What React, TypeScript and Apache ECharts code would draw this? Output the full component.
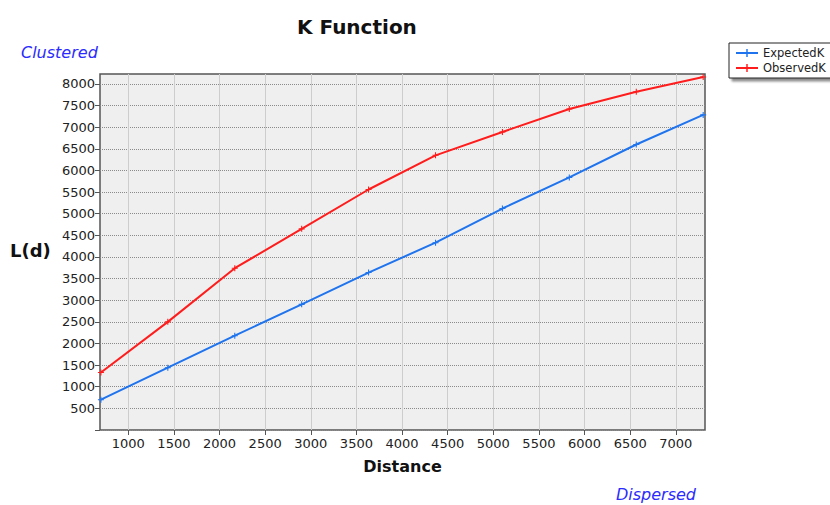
import React, { useEffect, useRef } from "react";
import * as echarts from "echarts";

const distances = [700, 1433, 2167, 2900, 3633, 4367, 5100, 5833, 6567, 7300];
const expectedK = [700, 1440, 2180, 2905, 3640, 4330, 5120, 5840, 6600, 7285];
const observedK = [1330, 2500, 3740, 4650, 5560, 6350, 6890, 7420, 7820, 8160];
const xTickValues = [1000, 1500, 2000, 2500, 3000, 3500, 4000, 4500, 5000, 5500, 6000, 6500, 7000];
const yTickValues = [0, 500, 1000, 1500, 2000, 2500, 3000, 3500, 4000, 4500, 5000, 5500, 6000, 6500, 7000, 7500, 8000];
const yLabelValues = yTickValues.filter((v) => v !== 0);

const plusSymbol =
  "path://M-0.18,-1H0.18V-0.18H1V0.18H0.18V1H-0.18V0.18H-1V-0.18H-0.18Z";

export default function App() {
  const ref = useRef<HTMLDivElement>(null);
  useEffect(() => {
    document.body.style.margin = "0";
    if (!ref.current) return;
    const chart = echarts.init(ref.current, undefined, { renderer: "svg" });
    const font = "DejaVu Sans";
    chart.setOption({
      animation: false,
      backgroundColor: "#ffffff",
      textStyle: { fontFamily: font },
      title: {
        text: "K Function",
        left: 292,
        top: 12,
        textStyle: { fontSize: 20, fontWeight: "bold", color: "#111", fontFamily: font },
      },
      legend: {
        left: 729,
        top: 43,
        orient: "vertical",
        itemGap: 3,
        itemWidth: 22,
        itemHeight: 10,
        padding: [4, 8, 4, 6],
        borderColor: "#222",
        borderWidth: 1,
        backgroundColor: "#fff",
        shadowColor: "rgba(0,0,0,0.45)",
        shadowBlur: 2,
        shadowOffsetX: 3,
        shadowOffsetY: 3,
        textStyle: { fontSize: 11.5, color: "#222", fontFamily: font },
        data: ["ExpectedK", "ObservedK"],
      },
      graphic: [
        {
          type: "text",
          left: 21,
          top: 44,
          style: { text: "Clustered", fill: "#2b2bff", font: `italic 16px "${font}"` },
        },
        {
          type: "text",
          left: 616,
          top: 486,
          style: { text: "Dispersed", fill: "#2b2bff", font: `italic 16px "${font}"` },
        },
        {
          type: "text",
          left: 10,
          top: 241,
          style: { text: "L(d)", fill: "#111", font: `bold 18px "${font}"` },
        },
      ],
      grid: {
        left: 100,
        right: 125,
        top: 74,
        bottom: 75,
        show: true,
        backgroundColor: "#efefef",
        borderColor: "#555",
        borderWidth: 1.5,
      },
      xAxis: {
        type: "value",
        min: 690,
        max: 7320,
        name: "Distance",
        nameLocation: "middle",
        nameGap: 28,
        nameTextStyle: { fontSize: 16, fontWeight: "bold", color: "#111", fontFamily: font },
        axisLine: { show: false },
        axisTick: { show: true, length: 5, lineStyle: { color: "#555" }, customValues: xTickValues },
        axisLabel: {
          customValues: xTickValues,
          formatter: (v: number) => String(v),
          fontSize: 13,
          color: "#222",
          margin: 7,
          fontFamily: font,
        },
        splitLine: { show: true, lineStyle: { color: "#cdcdcd", width: 1, type: "solid" } },
      },
      yAxis: {
        type: "value",
        min: 0,
        max: 8230,
        axisLine: { show: false },
        axisTick: { show: true, length: 5, lineStyle: { color: "#555" }, customValues: yTickValues },
        axisLabel: {
          customValues: yLabelValues,
          formatter: (v: number) => String(v),
          fontSize: 13,
          color: "#222",
          margin: 5,
          fontFamily: font,
        },
        splitLine: { show: true, lineStyle: { color: "#8a8a8a", width: 1, type: "dotted" } },
      },
      series: [
        {
          name: "ExpectedK",
          type: "line",
          data: distances.map((d, i) => [d, expectedK[i]]),
          symbol: plusSymbol,
          symbolSize: 6,
          showSymbol: true,
          color: "#1f74ee",
          lineStyle: { color: "#1f74ee", width: 2 },
          itemStyle: { color: "#1f74ee" },
        },
        {
          name: "ObservedK",
          type: "line",
          data: distances.map((d, i) => [d, observedK[i]]),
          symbol: plusSymbol,
          symbolSize: 6,
          showSymbol: true,
          color: "#ff1c1c",
          lineStyle: { color: "#ff1c1c", width: 2 },
          itemStyle: { color: "#ff1c1c" },
        },
      ],
    });
    return () => chart.dispose();
  }, []);
  return <div ref={ref} style={{ width: 830, height: 505 }} />;
}
